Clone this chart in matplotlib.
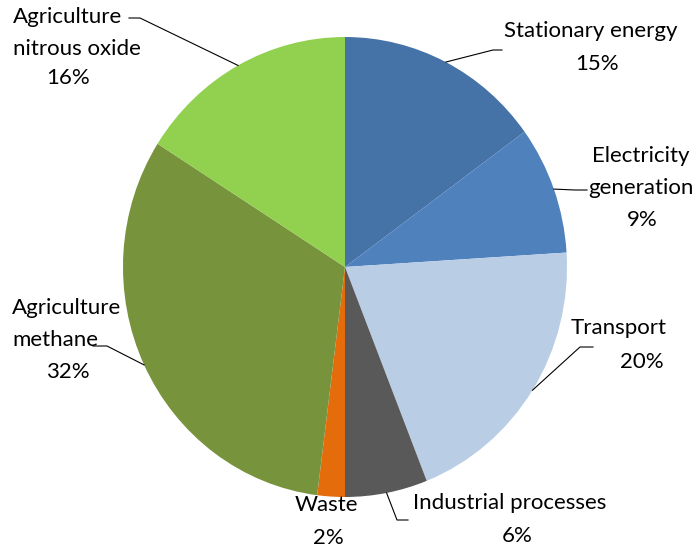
import numpy as np
import matplotlib.pyplot as plt
from matplotlib.lines import Line2D

plt.rcParams['font.family'] = ['Lato', 'DejaVu Sans']

sectors = ["Stationary energy", "Electricity\ngeneration", "Transport",
           "Industrial processes", "Waste", "Agriculture\nmethane",
           "Agriculture\nnitrous oxide"]
shares = [15, 9, 20, 6, 2, 32, 16]
colors = ["#4572A7", "#4F81BD", "#B9CDE5", "#595959", "#E46C0A",
          "#77933C", "#92D050"]

W, H = 700, 549
fig = plt.figure(figsize=(7, 5.49), dpi=100)


def fpos(x, y):
    # pixel position (from top-left) to figure fraction
    return x / W, 1 - y / H


# pie box: 444 px wide, 460 px tall, centred at (345, 267)
ax = fig.add_axes([123 / W, 1 - 497 / H, 444 / W, 460 / H])
ax.pie(shares, colors=colors, startangle=90, counterclock=False,
       radius=1, wedgeprops=dict(linewidth=0))
ax.set_aspect('auto')
ax.set_xlim(-1, 1)
ax.set_ylim(-1, 1)
ax.axis('off')

# label layout: name centre, name alignment, percent centre, leader elbow points
layout = [
    dict(name=(591, 31), ha="center", pct=(597, 64), elbow=[(493, 50), (502, 50)]),
    dict(name=(641, 172), ha="center", pct=(642, 220), elbow=[(575, 190), (587, 190)]),
    dict(name=(619, 328), ha="center", pct=(642, 362), elbow=[(580, 347), (593, 347)]),
    dict(name=(510, 503), ha="center", pct=(517, 536), elbow=[(397, 520), (408, 520)]),
    dict(name=(326, 505), ha="center", pct=(328, 538), elbow=None),
    dict(name=(12, 324), ha="left", pct=(68, 372), elbow=[(107, 346), (93, 346)]),
    dict(name=(13, 33), ha="left", pct=(68, 78), elbow=[(140, 18), (129, 18)]),
]

to_fig = ax.transData + fig.transFigure.inverted()
cum = np.cumsum([0] + shares[:-1])
for name, share, start, lay in zip(sectors, shares, cum, layout):
    mid = np.deg2rad(90 - (start + share / 2) * 3.6)
    fig.text(*fpos(*lay["name"]), name, ha=lay["ha"], va="center",
             multialignment=lay["ha"], fontsize=16, linespacing=1.7)
    fig.text(*fpos(*lay["pct"]), f"{share}%", ha="center", va="center",
             fontsize=16)
    if lay["elbow"]:
        wx, wy = to_fig.transform((np.cos(mid), np.sin(mid)))
        pts = [(wx, wy)] + [fpos(*p) for p in lay["elbow"]]
        xs, ys = zip(*pts)
        fig.add_artist(Line2D(xs, ys, transform=fig.transFigure,
                              color="black", linewidth=0.8))

plt.savefig("out.png", dpi=100)
